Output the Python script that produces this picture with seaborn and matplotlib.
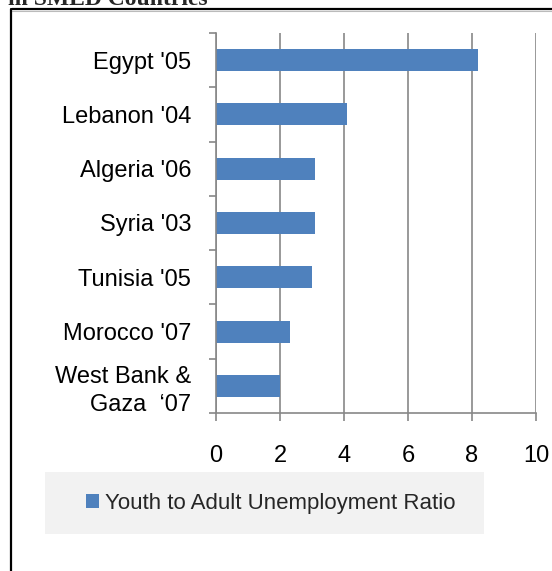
import matplotlib
matplotlib.use("Agg")
import matplotlib.pyplot as plt
from matplotlib.lines import Line2D
from matplotlib.patches import Rectangle
import seaborn as sns
import pandas as pd

categories = ["Egypt '05", "Lebanon '04", "Algeria '06", "Syria '03",
              "Tunisia '05", "Morocco '07", "West Bank &\nGaza  \u201807"]
values = [8.2, 4.1, 3.1, 3.1, 3.0, 2.3, 2.0]
series_name = "Youth to Adult Unemployment Ratio"
x_ticks = [0, 2, 4, 6, 8, 10]
title_text = "in SMED Countries"

sns.set_theme(style="white")
plt.rcParams['font.family'] = ['Liberation Sans', 'DejaVu Sans']

W, H = 552, 571
fig = plt.figure(figsize=(W / 100, H / 100), dpi=100)
ax = fig.add_axes([216 / W, 1 - 413 / H, 320 / W, 380 / H])

df = pd.DataFrame({"country": categories, "value": values, "series": series_name})
sns.barplot(data=df, x="value", y="country", hue="series", palette=["#4F81BD"],
            saturation=1, width=0.405, orient="h", ax=ax, linewidth=0, legend=True)

grey = "#878787"
ax.set_xlim(0, 10)
ax.set_ylim(6.5, -0.5)
ax.set_xticks(x_ticks)
ax.set_xticklabels([str(t) for t in x_ticks])
ax.set_xlabel("")
ax.set_ylabel("")
ax.xaxis.grid(True, color=grey, linewidth=1.2)
ax.set_axisbelow(True)
for s in ["top", "right"]:
    ax.spines[s].set_visible(False)
for s in ["left", "bottom"]:
    ax.spines[s].set_visible(True)
    ax.spines[s].set_color(grey)
    ax.spines[s].set_linewidth(1.2)

ax.tick_params(axis="x", length=5.8, width=1.2, color=grey, pad=17,
               labelsize=17, labelcolor="black", bottom=True)
ax.tick_params(axis="y", which="major", length=0, pad=18, labelsize=17,
               labelcolor="black")
ax.set_yticks([i - 0.5 for i in range(len(categories) + 1)], minor=True)
ax.tick_params(axis="y", which="minor", length=5, width=1.2, color=grey, left=True)
for lab in ax.get_yticklabels():
    lab.set_horizontalalignment("right")
    lab.set_multialignment("right")
    lab.set_linespacing(1.35)

# legend
leg = ax.get_legend()
handles, labels = ax.get_legend_handles_labels()
leg.remove()
fig.patches.append(Rectangle((45 / W, 1 - 534 / H), 439 / W, 62 / H,
                             transform=fig.transFigure, facecolor="#F2F2F2",
                             edgecolor="none", zorder=0))
fig.legend(handles, labels, loc="center", bbox_to_anchor=(271 / W, 1 - 503 / H),
           frameon=False, fontsize=16, handlelength=0.58, handleheight=0.58,
           handletextpad=0.27, borderpad=0)

# frame lines and clipped title
fig.add_artist(Line2D([12 / W, 1], [1 - 9 / H, 1 - 9 / H], transform=fig.transFigure,
                      color="black", linewidth=1.6))
fig.add_artist(Line2D([12 / W, 1], [1 - 11 / H, 1 - 11 / H], transform=fig.transFigure,
                      color="#BBBBBB", linewidth=0.8))
fig.add_artist(Line2D([11 / W, 11 / W], [0, 1 - 9 / H], transform=fig.transFigure,
                      color="black", linewidth=1.6))
fig.text(8 / W, 1 - 5 / H, title_text, fontsize=17, fontweight="bold",
         family=["Liberation Serif", "DejaVu Serif"], va="baseline", ha="left")

fig.savefig("out.png", dpi=100)
